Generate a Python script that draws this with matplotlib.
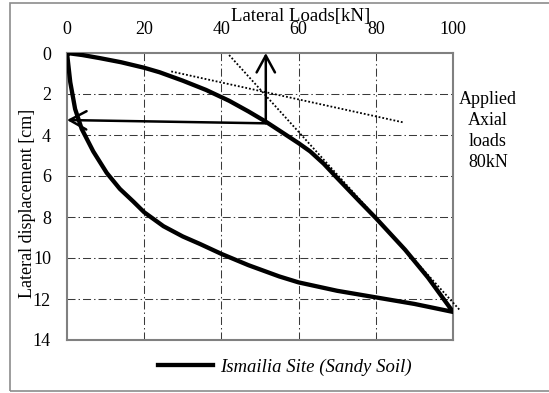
import matplotlib
matplotlib.use("Agg")
import matplotlib.pyplot as plt
from matplotlib.patches import Rectangle
from matplotlib.lines import Line2D

plt.rcParams['font.family'] = ['Liberation Serif', 'DejaVu Serif']

# Load (kN) vs lateral displacement (cm): loading branch then unloading branch
load_loading = [0, 4, 8.5, 14, 20, 24, 30, 36, 42, 47, 51.5, 55, 60, 63, 66.5, 70,
                75.6, 80, 87.6, 93.5, 100]
disp_loading = [0, 0.1, 0.25, 0.45, 0.72, 0.94, 1.35, 1.8, 2.33, 2.85, 3.35, 3.78, 4.4,
                4.8, 5.4, 6.1, 7.2, 8.05, 9.6, 10.95, 12.63]
load_unloading = [100, 90, 80, 70, 60, 55, 47, 40, 34.5, 30, 25, 20, 17.2, 13.7, 10.3,
                  6.8, 3.8, 2.1, 0.85, 0]
disp_unloading = [12.63, 12.24, 11.92, 11.6, 11.19, 10.9, 10.35, 9.8, 9.32, 8.95, 8.45,
                  7.77, 7.25, 6.63, 5.85, 4.8, 3.7, 2.73, 1.43, 0]

# Tangent construction lines (dotted)
tangent_initial_x = [27, 87]
tangent_initial_y = [0.9, 3.38]
tangent_final_x = [42, 101.8]
tangent_final_y = [0.1, 12.55]

# Intersection point and arrows to the axes
corner_load, corner_disp = 51.5, 3.43
arrow_up_tip = (51.5, 0.0)
arrow_left_tip = (0.0, 3.27)

x_ticks = [0, 20, 40, 60, 80, 100]
y_ticks = [0, 2, 4, 6, 8, 10, 12, 14]

W, H = 549, 393
fig = plt.figure(figsize=(W / 100, H / 100), dpi=100)
ax = fig.add_axes([67 / W, 1 - 340 / H, (453 - 67) / W, (340 - 53) / H])

grid_style = dict(color='#3a3a3a', lw=0.75, linestyle=(0, (7.7, 2.9, 1.4, 2.9)))
for xv in x_ticks[1:-1]:
    ax.axvline(xv, zorder=1, **grid_style)
for yv in y_ticks[1:-1]:
    ax.axhline(yv, zorder=1, **grid_style)

ax.plot(load_loading + load_unloading[1:], disp_loading + disp_unloading[1:],
        color='black', lw=3.1, solid_joinstyle='round', solid_capstyle='round', zorder=4)

dot_style = dict(color='black', lw=1.3, linestyle=(0, (1, 1.1)), zorder=3)
ax.plot(tangent_initial_x, tangent_initial_y, **dot_style)
ax.plot(tangent_final_x, tangent_final_y, clip_on=False, **dot_style)

arrow_props = dict(arrowstyle='->,head_length=0.55,head_width=0.3', lw=1.8,
                   color='black', shrinkA=0, shrinkB=0, mutation_scale=22)
ax.annotate('', xy=arrow_up_tip, xytext=(corner_load, corner_disp),
            arrowprops=arrow_props, zorder=5)
ax.annotate('', xy=arrow_left_tip, xytext=(corner_load, corner_disp),
            arrowprops=arrow_props, zorder=5)

ax.set_xlim(0, 100)
ax.set_ylim(14, 0)
ax.set_xticks(x_ticks)
ax.set_yticks(y_ticks)
ax.xaxis.tick_top()
ax.tick_params(axis='both', length=0, labelsize=13, colors='black')
ax.tick_params(axis='x', pad=11)
ax.tick_params(axis='y', pad=11.5)
for s in ax.spines.values():
    s.set_color('#808080')
    s.set_linewidth(1.5)

ax.xaxis.set_label_position('top')
ax.set_xlabel('Lateral Loads[kN]', fontsize=13.5)
ax.xaxis.set_label_coords((301 - 67) / 386, (340 - 17) / 287)
ax.xaxis.label.set_va('center')
ax.set_ylabel('Lateral displacement [cm]', fontsize=13)
ax.yaxis.set_label_coords((28 - 67) / 386, (340 - 203) / 287)
ax.yaxis.label.set_va('center')
ax.yaxis.label.set_ha('center')

ax.text((488 - 67) / 386, (340 - 131) / 287, 'Applied\nAxial\nloads\n80kN',
        transform=ax.transAxes, ha='center', va='center', fontsize=13,
        linespacing=1.32, clip_on=False)

handle = Line2D([], [], color='black', lw=3.1)
leg = fig.legend([handle], ['Ismailia Site (Sandy Soil)'], loc='center',
                 bbox_to_anchor=(285 / W, 1 - 367 / H), frameon=False,
                 handlelength=2.9, handletextpad=0.4,
                 prop=dict(family='Liberation Serif', style='italic', size=13.5))

fig.patches.append(Rectangle((10 / W, 1 - 391 / H), 1.0, (391 - 3) / H,
                             transform=fig.transFigure, fill=False,
                             edgecolor='#8c8c8c', lw=1.2))

fig.savefig('out.png', dpi=100)
